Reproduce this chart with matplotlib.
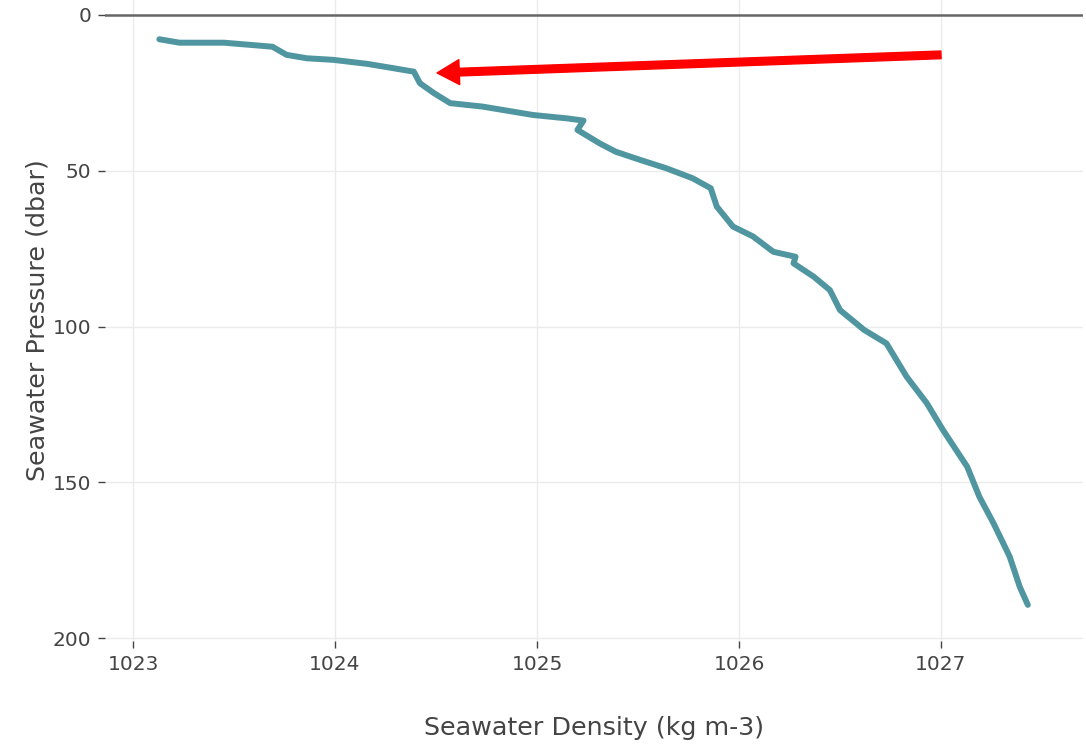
import numpy as np
import matplotlib
matplotlib.use("Agg")
import matplotlib.pyplot as plt

# density profile (kg m-3 vs dbar)
density = [1023.13, 1023.23, 1023.45, 1023.58, 1023.69, 1023.76, 1023.86, 1023.99,
           1024.16, 1024.29, 1024.39, 1024.42, 1024.49, 1024.57, 1024.73, 1024.98,
           1025.15, 1025.23, 1025.20, 1025.31, 1025.39, 1025.51, 1025.64, 1025.77,
           1025.86, 1025.89, 1025.97, 1026.07, 1026.17, 1026.28, 1026.27, 1026.37,
           1026.45, 1026.50, 1026.62, 1026.73, 1026.83, 1026.93, 1027.01, 1027.13,
           1027.19, 1027.26, 1027.34, 1027.39, 1027.43]
pressure = [7.8, 8.9, 8.9, 9.6, 10.2, 12.8, 13.9, 14.4,
            15.7, 17.1, 18.2, 21.9, 25.1, 28.3, 29.4, 32.1,
            33.2, 33.9, 36.9, 41.2, 43.9, 46.5, 49.2, 52.4,
            55.6, 61.5, 67.9, 71.1, 76.0, 77.6, 79.7, 84.0,
            88.3, 94.7, 101.1, 105.4, 116.1, 124.6, 133.2, 145.0,
            154.6, 163.1, 173.8, 183.5, 189.3]

x_ticks = [1023, 1024, 1025, 1026, 1027]
y_ticks = [0, 50, 100, 150, 200]

# annotation arrow (tail -> head)
arrow_tail = (1027.0, 12.8)
arrow_head = (1024.505, 18.6)

TEXT = '#444444'
plt.rcParams['font.family'] = ['DejaVu Sans']

fig = plt.figure(figsize=(10.86, 7.45), dpi=100)
ax = fig.add_axes([0.0967, 0.1396, 0.9005, 0.8604])

ax.plot(density, pressure, '-', color='#5096a0', lw=4.3, solid_capstyle='round',
        solid_joinstyle='round', zorder=3)

ax.set_xlim(1022.861, 1027.703)
ax.set_ylim(200.9, -4.8)
ax.set_xticks(x_ticks)
ax.set_yticks(y_ticks)
ax.grid(True, color='#ebebeb', lw=1.0)
ax.set_axisbelow(True)
ax.axhline(0, color='#666666', lw=1.8, zorder=2)

for s in ax.spines.values():
    s.set_visible(False)
ax.tick_params(axis='both', colors=TEXT, labelsize=14.5, length=5, width=1, pad=5,
               direction='out')

ax.set_xlabel('Seawater Density (kg m-3)', fontsize=18.3, color=TEXT, labelpad=30)
ax.set_ylabel('Seawater Pressure (dbar)', fontsize=18.3, color=TEXT, labelpad=2)

ax.annotate('', xy=arrow_head, xytext=arrow_tail,
            arrowprops=dict(color='#ff0000', width=5.5, headwidth=18, headlength=16,
                            shrink=0.0), zorder=5)

fig.savefig('out.png', dpi=100)
